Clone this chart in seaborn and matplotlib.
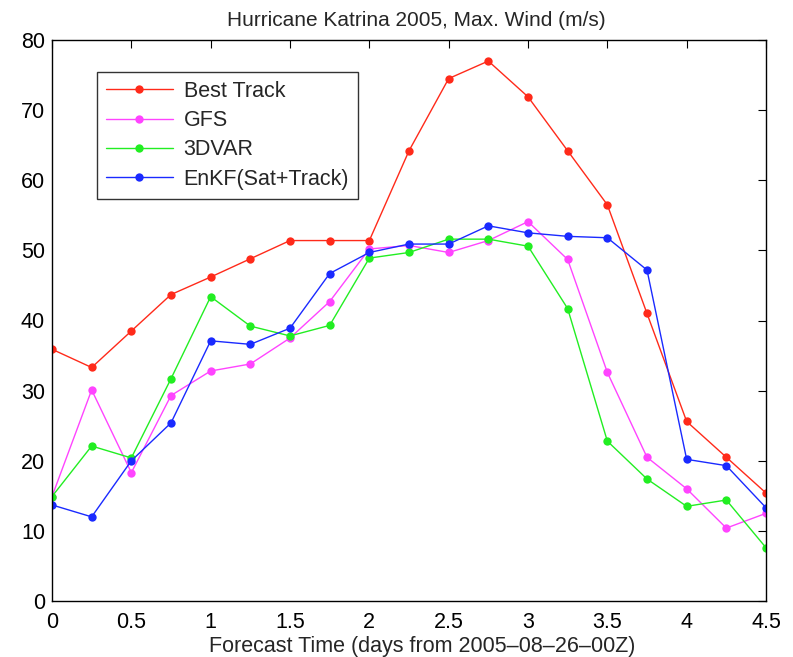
import numpy as np
import pandas as pd
import matplotlib
matplotlib.use("Agg")
import matplotlib.pyplot as plt
import seaborn as sns

# Forecast lead time (days from 2005-08-26 00Z)
days = [0, 0.25, 0.5, 0.75, 1.0, 1.25, 1.5, 1.75, 2.0, 2.25, 2.5, 2.75, 3.0,
        3.25, 3.5, 3.75, 4.0, 4.25, 4.5]

# Maximum wind speed (m/s)
best_track = [35.9, 33.3, 38.5, 43.7, 46.2, 48.8, 51.4, 51.4, 51.4, 64.2, 74.5,
              77.0, 71.9, 64.2, 56.5, 41.0, 25.6, 20.5, 15.4]
gfs = [14.9, 30.1, 18.3, 29.3, 32.8, 33.8, 37.5, 42.7, 50.2, 50.7, 49.7, 51.4,
       54.1, 48.7, 32.6, 20.5, 16.0, 10.4, 12.5]
var3d = [14.9, 22.1, 20.4, 31.7, 43.4, 39.2, 37.8, 39.3, 48.9, 49.7, 51.6, 51.6,
         50.6, 41.7, 22.8, 17.4, 13.5, 14.4, 7.6]
enkf = [13.7, 12.0, 20.0, 25.4, 37.1, 36.6, 38.9, 46.7, 49.7, 50.9, 50.9, 53.5,
        52.5, 52.0, 51.8, 47.2, 20.2, 19.3, 13.3]

series_names = ["Best Track", "GFS", "3DVAR", "EnKF(Sat+Track)"]
series_values = [best_track, gfs, var3d, enkf]
colors = ["#ff2a1a", "#ff44ff", "#22ee22", "#1a2aff"]

x_ticks = [0, 0.5, 1, 1.5, 2, 2.5, 3, 3.5, 4, 4.5]
x_tick_labels = ["0", "0.5", "1", "1.5", "2", "2.5", "3", "3.5", "4", "4.5"]
y_ticks = [0, 10, 20, 30, 40, 50, 60, 70, 80]

df = pd.DataFrame({
    "day": np.tile(days, len(series_names)),
    "wind": np.concatenate(series_values),
    "run": np.repeat(series_names, len(days)),
})

sns.set_style("white")
plt.rcParams["font.family"] = ["Liberation Sans", "DejaVu Sans"]

fig = plt.figure(figsize=(7.93, 6.57), dpi=100)
ax = fig.add_axes([52 / 793, 1 - 601 / 657, (766 - 52) / 793, (601 - 40) / 657])

sns.lineplot(data=df, x="day", y="wind", hue="run", hue_order=series_names,
             palette=colors, marker="o", markersize=6, markeredgewidth=0,
             linewidth=1.0, ax=ax)

ax.set_xlim(0, 4.5)
ax.set_ylim(0, 80)
ax.set_xticks(x_ticks)
ax.set_xticklabels(x_tick_labels)
ax.set_yticks(y_ticks)
ax.tick_params(direction="in", length=6, width=0.8, top=True, right=True,
               labelsize=15.5, colors="black")
ax.tick_params(axis="x", pad=8)
ax.tick_params(axis="y", pad=5)
for s in ax.spines.values():
    s.set_visible(True)
    s.set_color("black")
    s.set_linewidth(1.0)

ax.set_title("Hurricane Katrina 2005, Max. Wind (m/s)", fontsize=15, pad=10,
             x=0.51)
ax.set_xlabel("Forecast Time (days from 2005\u201308\u201326\u201300Z)",
              fontsize=15.5)
ax.xaxis.set_label_coords(0.518, -0.063)
ax.xaxis.label.set_verticalalignment("top")
ax.set_ylabel("")

leg = ax.legend(loc="upper left", bbox_to_anchor=(0.063, 0.943), fontsize=15.5,
                frameon=True, fancybox=False, handlelength=3.1,
                borderpad=0.42, borderaxespad=0, labelspacing=0.38,
                handletextpad=0.5)
leg.get_frame().set_edgecolor("black")
leg.get_frame().set_linewidth(1.0)

fig.savefig("out.png", dpi=100, facecolor="white")
